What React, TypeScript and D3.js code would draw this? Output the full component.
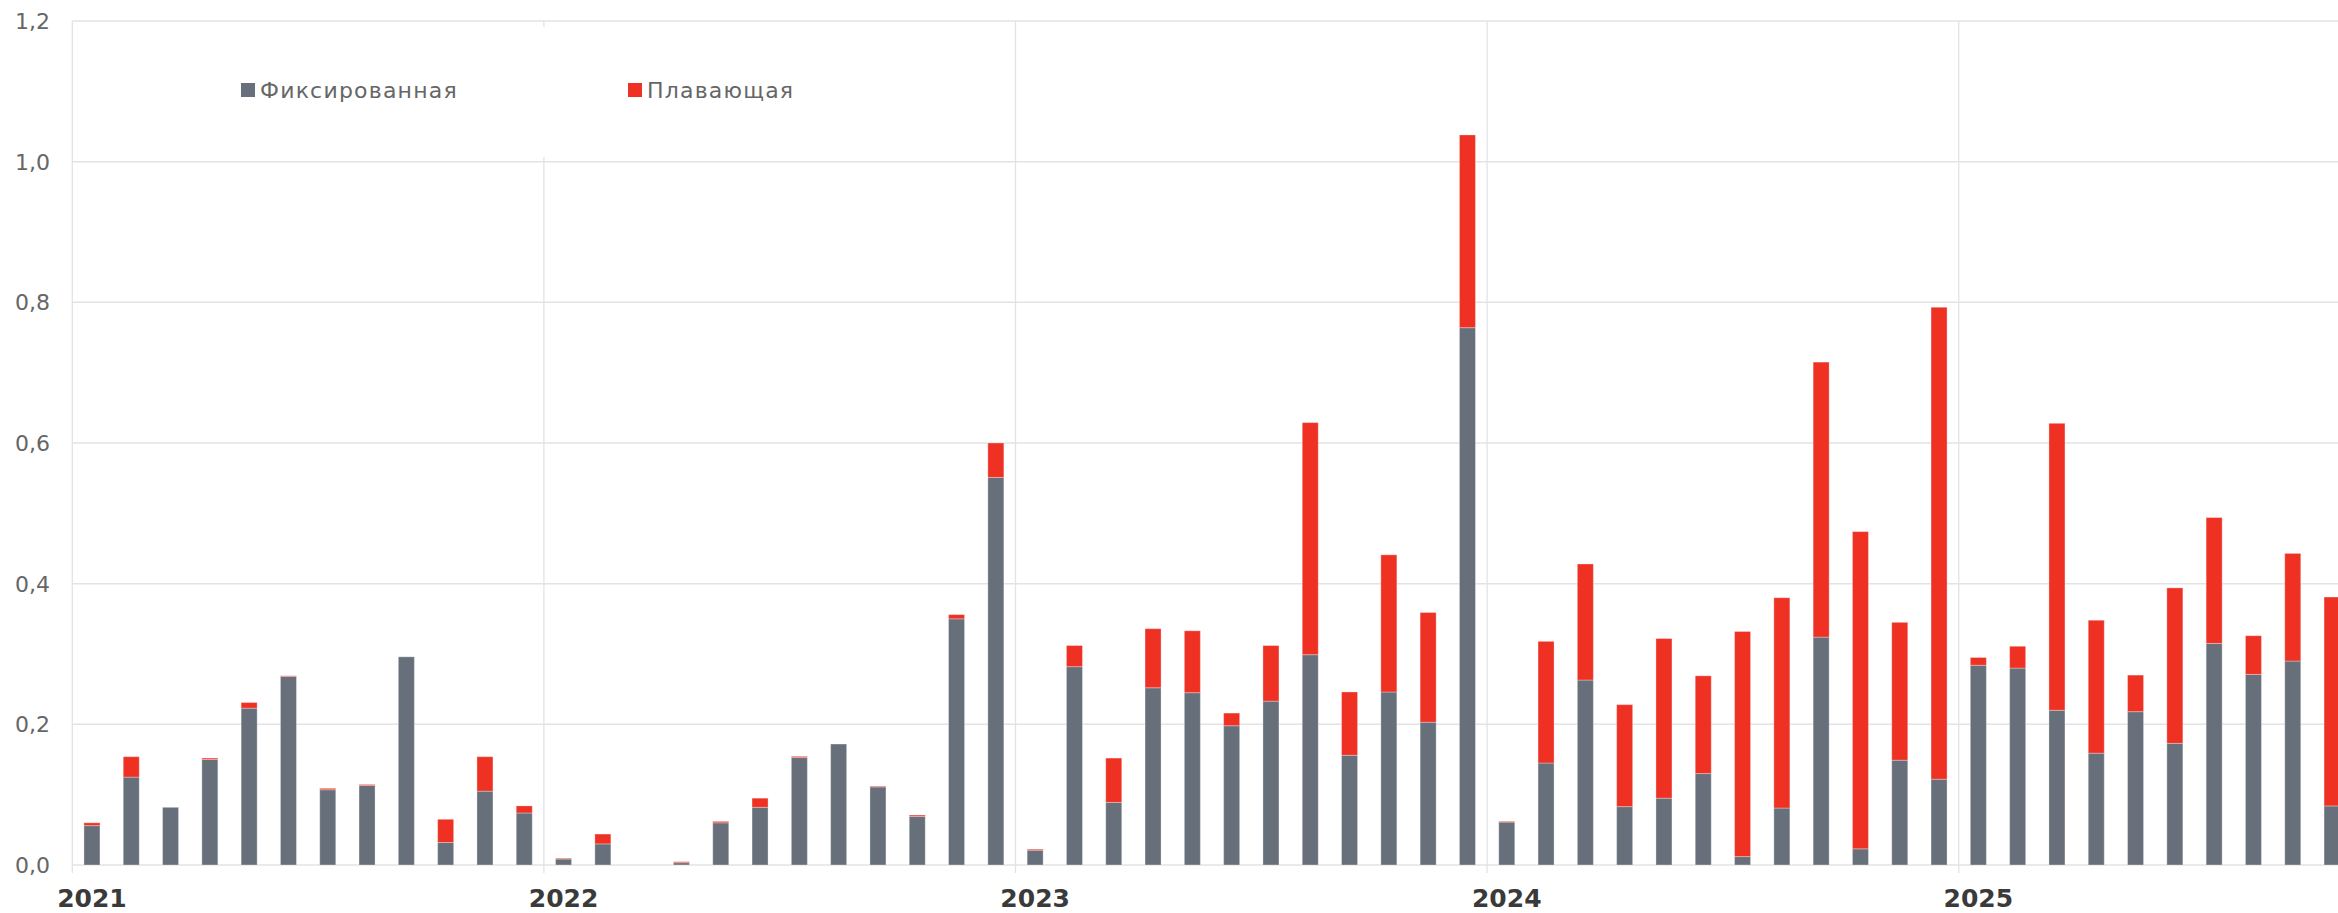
import { useEffect, useRef } from 'react';
import * as d3 from 'd3';

// monthly volumes, Jan 2021 .. Oct 2025
const fixedValues = [
  0.056, 0.125, 0.082, 0.150, 0.223, 0.268, 0.107, 0.113, 0.296, 0.032, 0.105, 0.074,
  0.0085, 0.030, 0, 0.0033, 0.060, 0.082, 0.153, 0.172, 0.111, 0.069, 0.350, 0.551,
  0.021, 0.282, 0.089, 0.252, 0.245, 0.198, 0.233, 0.299, 0.156, 0.246, 0.203, 0.764,
  0.061, 0.145, 0.263, 0.083, 0.095, 0.130, 0.012, 0.081, 0.324, 0.023, 0.149, 0.122,
  0.284, 0.280, 0.220, 0.159, 0.218, 0.173, 0.315, 0.271, 0.290, 0.084,
];

const floatingValues = [
  0.004, 0.029, 0, 0.002, 0.008, 0.001, 0.002, 0.0015, 0, 0.033, 0.049, 0.010,
  0.001, 0.014, 0, 0.0014, 0.002, 0.013, 0.0015, 0, 0.001, 0.002, 0.006, 0.049,
  0.0015, 0.030, 0.063, 0.084, 0.088, 0.018, 0.079, 0.330, 0.090, 0.195, 0.156, 0.274,
  0.001, 0.173, 0.165, 0.145, 0.227, 0.139, 0.320, 0.299, 0.391, 0.451, 0.196, 0.671,
  0.011, 0.031, 0.408, 0.189, 0.052, 0.221, 0.179, 0.055, 0.153, 0.297,
];

const years = [2021, 2022, 2023, 2024, 2025];
const yTicks = [0, 0.2, 0.4, 0.6, 0.8, 1.0, 1.2];
const seriesNames = ['Фиксированная', 'Плавающая'];
const seriesColors = ['#67707a', '#ef3124'];

const months = d3.timeMonths(new Date(2021, 0, 1), new Date(2025, 10, 1));

const W = 2338;
const H = 913;
const FONT = '"DejaVu Sans", sans-serif';

export default function App() {
  const svgRef = useRef<SVGSVGElement>(null);

  useEffect(() => {
    if (!svgRef.current) return;
    const svg = d3.select(svgRef.current);
    svg.selectAll('*').remove();

    const left = 72.3;
    const step = 39.3;
    const top = 21;
    const bottom = 865;
    const pad = 1 - 16 / step;

    const x = d3.scaleBand<Date>()
      .domain(months)
      .range([left, left + months.length * step])
      .paddingInner(pad)
      .paddingOuter(pad / 2);

    const y = d3.scaleLinear().domain([0, 1.2]).range([bottom, top]);

    // horizontal grid
    svg.append('g')
      .selectAll('line')
      .data(yTicks)
      .enter()
      .append('line')
      .attr('x1', left)
      .attr('x2', W)
      .attr('y1', d => y(d))
      .attr('y2', d => y(d))
      .attr('stroke', '#e3e3e6')
      .attr('stroke-width', 1.5);

    // year separators
    const yearStart = (yr: number) => {
      const m = months.find(d => d.getFullYear() === yr)!;
      return x(m)! - (x.step() * pad) / 2;
    };
    svg.append('g')
      .selectAll('line')
      .data(years)
      .enter()
      .append('line')
      .attr('x1', d => yearStart(d))
      .attr('x2', d => yearStart(d))
      .attr('y1', top)
      .attr('y2', bottom + 8)
      .attr('stroke', '#e3e3e6')
      .attr('stroke-width', 1.3);

    // y labels
    svg.append('g')
      .selectAll('text')
      .data(yTicks)
      .enter()
      .append('text')
      .attr('x', 50)
      .attr('y', d => y(d))
      .attr('dy', '0.36em')
      .attr('text-anchor', 'end')
      .attr('font-family', FONT)
      .attr('font-size', 22)
      .attr('fill', '#666')
      .text(d => d3.format('.1f')(d).replace('.', ','));

    // stacked bars
    const rows = months.map((m, i) => ({ m, fixed: fixedValues[i], floating: floatingValues[i] }));
    const stack = d3.stack<typeof rows[number]>().keys(['fixed', 'floating']);
    const layers = stack(rows);

    svg.append('g')
      .selectAll('g')
      .data(layers)
      .enter()
      .append('g')
      .attr('fill', (d, i) => seriesColors[i])
      .selectAll('rect')
      .data(d => d.filter(p => p[1] - p[0] > 0))
      .enter()
      .append('rect')
      .attr('x', d => x(d.data.m)!)
      .attr('width', x.bandwidth())
      .attr('y', d => y(d[1]))
      .attr('height', d => y(d[0]) - y(d[1]))
      .attr('stroke', 'rgba(255,255,255,0.3)')
      .attr('stroke-width', 1);

    // x labels (years)
    svg.append('g')
      .selectAll('text')
      .data(years)
      .enter()
      .append('text')
      .attr('x', d => x(months.find(m => m.getFullYear() === d)!)! + x.bandwidth() / 2)
      .attr('y', 907)
      .attr('text-anchor', 'middle')
      .attr('font-family', FONT)
      .attr('font-weight', 'bold')
      .attr('font-size', 25)
      .attr('fill', '#3a3a3a')
      .text(d => String(d));

    // legend
    const legend = svg.append('g');
    legend.append('rect')
      .attr('x', 200)
      .attr('y', 27)
      .attr('width', 700)
      .attr('height', 130)
      .attr('fill', '#fff');
    const legendX = [241, 628];
    seriesNames.forEach((name, i) => {
      legend.append('rect')
        .attr('x', legendX[i])
        .attr('y', 83)
        .attr('width', 14)
        .attr('height', 14)
        .attr('fill', seriesColors[i]);
      legend.append('text')
        .attr('x', legendX[i] + 19)
        .attr('y', 98)
        .attr('font-family', FONT)
        .attr('font-size', 22)
        .attr('letter-spacing', 1.2)
        .attr('fill', '#666')
        .text(name);
    });
  }, []);

  return (
    <svg
      ref={svgRef}
      width={W}
      height={H}
      style={{ position: 'absolute', left: 0, top: 0, display: 'block', background: '#fff' }}
    />
  );
}
